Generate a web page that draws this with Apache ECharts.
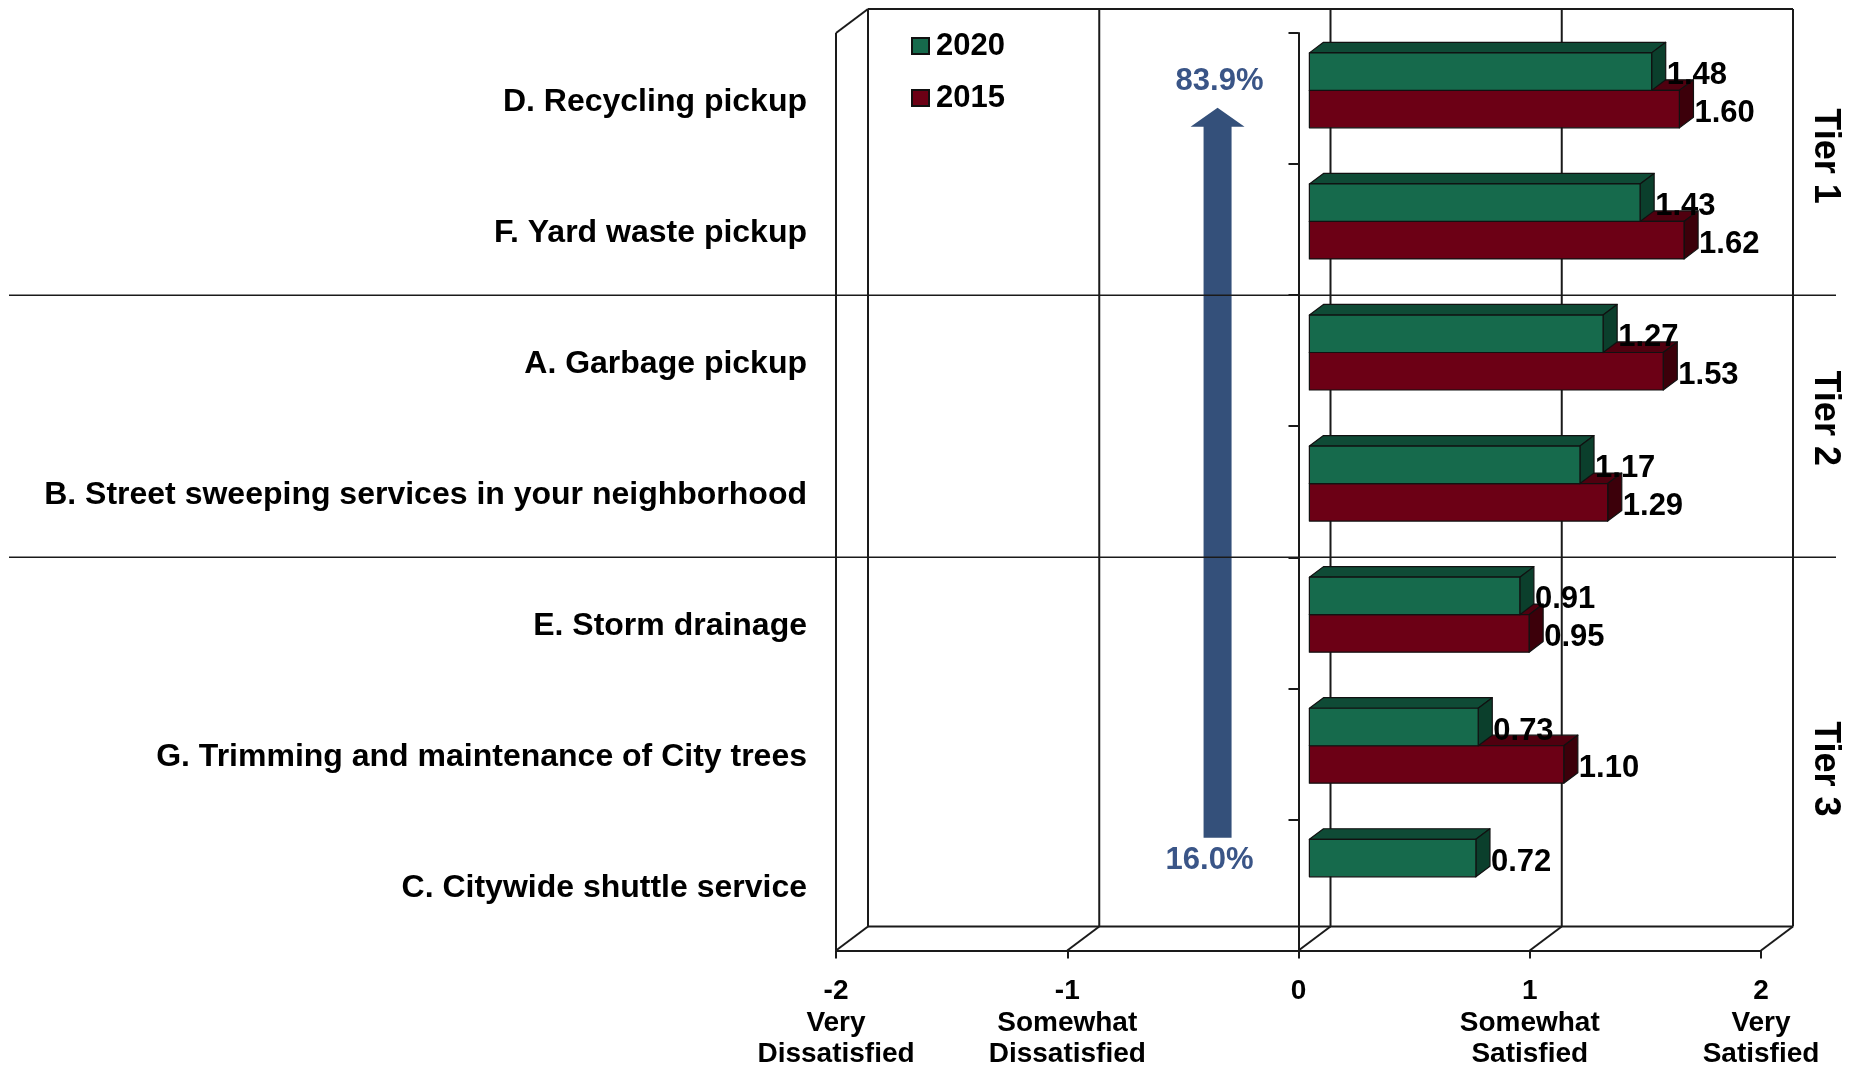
<!DOCTYPE html>
<html>
<head>
<meta charset="utf-8">
<script src="https://cdn.jsdelivr.net/npm/echarts@6/dist/echarts.min.js"></script>
<style>
  html, body { margin: 0; padding: 0; background: #fff; }
  #chart { width: 1851px; height: 1068px; }
</style>
</head>
<body>
<div id="chart"></div>
<script>
// values
const categories = [
    "D. Recycling pickup",
    "F. Yard waste pickup",
    "A. Garbage pickup",
    "B. Street sweeping services in your neighborhood",
    "E. Storm drainage",
    "G. Trimming and maintenance of City trees",
    "C. Citywide shuttle service",
];
const values2020 = [1.48, 1.43, 1.27, 1.17, 0.91, 0.73, 0.72];
const values2015 = [1.6, 1.62, 1.53, 1.29, 0.95, 1.1, null];
const xTicks = [-2, -1, 0, 1, 2];
const xTickNames = ["Very\nDissatisfied", "Somewhat\nDissatisfied", "", "Somewhat\nSatisfied", "Very\nSatisfied"];
const tiers = [
    ["Tier 1", 0, 1],
    ["Tier 2", 2, 3],
    ["Tier 3", 4, 6],
];
const arrowLabels = ["83.9%", "16.0%"];
const arrowX = -0.35;

const FONT = "'Liberation Sans', Arial, sans-serif";
// 3d depth of the plot box
const DX = 32;
const DY = -24;
const BAR_FRONT = 0.34;
const BAR_BACK = 0.78;
// small nudges for the tier captions (px)
const tierNudge = [-8, -8, 15];

const colors = {
    "2020": { front: "#166A4C", top: "#0F4B36", side: "#0B3F2C" },
    "2015": { front: "#6C0015", top: "#50000F", side: "#3C000A" },
};

function bandEdges(api) {
    const band = api.size([0, 1])[1];
    const top = api.coord([0, 0])[1] - band / 2;
    const bottom = api.coord([0, categories.length - 1])[1] + band / 2;
    return { band, top, bottom };
}

function line(x1, y1, x2, y2, w) {
    return {
        type: "line",
        shape: { x1, y1, x2, y2 },
        style: { stroke: "#1a1a1a", lineWidth: w || 2 },
        silent: true,
    };
}

function renderFrame(params, api) {
    const { top, bottom } = bandEdges(api);
    const xs = xTicks.map((t) => api.coord([t, 0])[0]);
    const first = xs[0];
    const last = xs[xs.length - 1];
    const children = [];
    xs.forEach((x) => {
        children.push(line(x + DX, top + DY, x + DX, bottom + DY));
        children.push(line(x, bottom, x + DX, bottom + DY));
    });
    children.push(line(first + DX, top + DY, last + DX, top + DY));
    children.push(line(first + DX, bottom + DY, last + DX, bottom + DY));
    children.push(line(first, top, first, bottom));
    children.push(line(first, top, first + DX, top + DY));
    return { type: "group", children };
}

function renderSeparators(params, api) {
    const { band } = bandEdges(api);
    const w = api.getWidth();
    const children = tiers.slice(1).map((t) => {
        const y = api.coord([0, t[1]])[1] - band / 2;
        return line(9, y, w - 15, y, 1.5);
    });
    tiers.forEach((t, k) => {
        const y = (api.coord([0, t[1]])[1] + api.coord([0, t[2]])[1]) / 2 + tierNudge[k];
        children.push({
            type: "text",
            x: w - 26,
            y: y,
            rotation: -Math.PI / 2,
            style: {
                text: t[0],
                x: 0,
                y: 0,
                align: "center",
                verticalAlign: "middle",
                font: "bold 36px " + FONT,
                fill: "#000",
            },
            silent: true,
        });
    });
    return { type: "group", children };
}

function renderArrow(params, api) {
    const { band } = bandEdges(api);
    const cx = api.coord([arrowX, 0])[0];
    const yTip = api.coord([0, 0])[1] + band * 0.07;
    const yBase = api.coord([0, categories.length - 1])[1] - band * 0.36;
    const head = 19;
    const shaft = 14;
    const wing = 27;
    const fill = "#34507A";
    return {
        type: "group",
        children: [
            {
                type: "polygon",
                shape: {
                    points: [
                        [cx, yTip],
                        [cx + wing, yTip + head],
                        [cx + shaft, yTip + head],
                        [cx + shaft, yBase],
                        [cx - shaft, yBase],
                        [cx - shaft, yTip + head],
                        [cx - wing, yTip + head],
                    ],
                },
                style: { fill },
            },
            {
                type: "text",
                style: {
                    text: arrowLabels[0],
                    x: cx + 2,
                    y: yTip - 26,
                    align: "center",
                    verticalAlign: "middle",
                    font: "bold 31px " + FONT,
                    fill: "#3A5587",
                },
            },
            {
                type: "text",
                style: {
                    text: arrowLabels[1],
                    x: cx - 8,
                    y: yBase + 23,
                    align: "center",
                    verticalAlign: "middle",
                    font: "bold 31px " + FONT,
                    fill: "#3A5587",
                },
            },
        ],
    };
}

function barRenderer(year, upper) {
    const c = colors[year];
    return (params, api) => {
        const v = api.value(0);
        if (v == null || isNaN(v)) return null;
        const i = api.value(1);
        const { band } = bandEdges(api);
        const bh = band * 0.286;
        const zero = api.coord([0, i]);
        const end = api.coord([v, i]);
        const ox = DX * BAR_FRONT;
        const oy = DY * BAR_FRONT;
        const dx = DX * (BAR_BACK - BAR_FRONT);
        const dy = DY * (BAR_BACK - BAR_FRONT);
        const x0 = zero[0] + ox;
        const x1 = end[0] + ox;
        const y0 = (upper ? zero[1] - bh : zero[1]) + oy;
        const y1 = y0 + bh;
        const edge = { stroke: "#111", lineWidth: 1.2, lineJoin: "round" };
        return {
            type: "group",
            children: [
                {
                    type: "polygon",
                    shape: { points: [[x0, y0], [x1, y0], [x1 + dx, y0 + dy], [x0 + dx, y0 + dy]] },
                    style: Object.assign({ fill: c.top }, edge),
                },
                {
                    type: "polygon",
                    shape: { points: [[x1, y0], [x1 + dx, y0 + dy], [x1 + dx, y1 + dy], [x1, y1]] },
                    style: Object.assign({ fill: c.side }, edge),
                },
                {
                    type: "rect",
                    shape: { x: x0, y: y0, width: x1 - x0, height: bh },
                    style: Object.assign({ fill: c.front }, edge),
                },
                {
                    type: "text",
                    style: {
                        text: v.toFixed(2),
                        x: x1 + dx + 1,
                        y: (y0 + y1) / 2 + 4,
                        align: "left",
                        verticalAlign: "middle",
                        font: "bold 31px " + FONT,
                        fill: "#000",
                    },
                },
            ],
        };
    };
}

const chart = echarts.init(document.getElementById("chart"));

const option = {
    animation: false,
    backgroundColor: "#fff",
    textStyle: { fontFamily: FONT },
    grid: { left: 836, right: 90, top: 33, bottom: 117.5, containLabel: false, outerBoundsMode: "none" },
    legend: {
        data: ["2020", "2015"],
        orient: "vertical",
        left: 906,
        top: 25,
        itemWidth: 17,
        itemHeight: 16,
        itemGap: 20,
        icon: "rect",
        textStyle: { fontSize: 31, fontWeight: "bold", color: "#000", lineHeight: 32, padding: [0, 0, 0, 2] },
    },
    xAxis: {
        type: "value",
        min: -2,
        max: 2,
        interval: 1,
        splitLine: { show: false },
        axisLine: { show: true, lineStyle: { color: "#1a1a1a", width: 2 } },
        axisTick: { show: true, length: 8, lineStyle: { color: "#1a1a1a", width: 2 } },
        axisLabel: {
            margin: 25,
            showMinLabel: true,
            showMaxLabel: true,
            hideOverlap: false,
            formatter: (val) => {
                const name = xTickNames[xTicks.indexOf(val)];
                return name ? `{n|${val}}\n{t|${name}}` : `{n|${val}}`;
            },
            rich: {
                n: { fontSize: 28, fontWeight: "bold", color: "#000", lineHeight: 32, fontFamily: FONT },
                t: { fontSize: 28, fontWeight: "bold", color: "#000", lineHeight: 31, fontFamily: FONT },
            },
        },
    },
    yAxis: {
        type: "category",
        inverse: true,
        data: categories,
        axisLine: { show: true, onZero: true, lineStyle: { color: "#1a1a1a", width: 2 } },
        axisTick: { show: true, length: 10, lineStyle: { color: "#1a1a1a", width: 2 } },
        axisLabel: {
            margin: 29,
            fontSize: 32,
            fontWeight: "bold",
            color: "#000",
            verticalAlign: "top",
            lineHeight: 7,
        },
        splitLine: { show: false },
    },
    series: [
        {
            type: "custom",
            name: "frame",
            silent: true,
            renderItem: renderFrame,
            data: [[0, 0]],
            z: 1,
        },
        {
            type: "custom",
            name: "2015",
            itemStyle: { color: colors["2015"].front, borderColor: "#111", borderWidth: 1 },
            renderItem: barRenderer("2015", false),
            encode: { x: 0, y: 1 },
            data: values2015.map((v, i) => [v, i]),
            z: 3,
        },
        {
            type: "custom",
            name: "2020",
            itemStyle: { color: colors["2020"].front, borderColor: "#111", borderWidth: 1 },
            renderItem: barRenderer("2020", true),
            encode: { x: 0, y: 1 },
            data: values2020.map((v, i) => [v, i]),
            z: 4,
        },
        {
            type: "custom",
            name: "arrow",
            silent: true,
            renderItem: renderArrow,
            data: [[arrowX, 0]],
            z: 2,
        },
        {
            type: "custom",
            name: "tiers",
            silent: true,
            renderItem: renderSeparators,
            data: [[0, 0]],
            z: 2,
        },
    ],
};

chart.setOption(option);
</script>
</body>
</html>
